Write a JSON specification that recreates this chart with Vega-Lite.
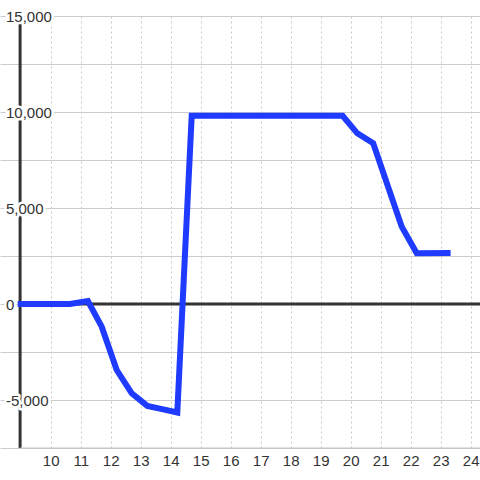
{
  "$schema": "https://vega.github.io/schema/vega-lite/v6.json",
  "width": 480,
  "height": 432,
  "autosize": {"type": "none"},
  "padding": {"top": 16, "left": 0, "right": 0, "bottom": 32},
  "background": "white",
  "config": {
    "view": {"stroke": null},
    "font": "Liberation Sans",
    "axisX": {"grid": true, "gridDash": [2, 3], "gridColor": "#c8c8c8", "domain": false, "ticks": false, "labelFontSize": 15, "labelColor": "#333333", "labelPadding": 5, "labelFont": "Liberation Sans"},
    "axisY": {"grid": true, "gridColor": "#cccccc", "domain": false, "ticks": false, "labels": false}
  },
  "datasets": {
    "series": [
      {"x": 8.9, "y": 0},
      {"x": 10.64, "y": 0},
      {"x": 11.24, "y": 150},
      {"x": 11.7, "y": -1180},
      {"x": 12.2, "y": -3440},
      {"x": 12.7, "y": -4650},
      {"x": 13.22, "y": -5310},
      {"x": 13.75, "y": -5490},
      {"x": 14.22, "y": -5650},
      {"x": 14.7, "y": 9800},
      {"x": 19.73, "y": 9800},
      {"x": 20.22, "y": 8890},
      {"x": 20.75, "y": 8370},
      {"x": 21.7, "y": 4030},
      {"x": 22.2, "y": 2640},
      {"x": 23.33, "y": 2650}
    ],
    "ylabels": [
      {"y": 15000, "label": "15,000"},
      {"y": 10000, "label": "10,000"},
      {"y": 5000, "label": "5,000"},
      {"y": 0, "label": "0"},
      {"y": -5000, "label": "-5,000"}
    ],
    "one": [{}]
  },
  "layer": [
    {
      "data": {"name": "one"},
      "mark": {"type": "rule", "color": "#333333", "strokeWidth": 3},
      "encoding": {
        "x": {"datum": 8.98, "type": "quantitative", "title": null, "scale": {"domain": [8.31, 24.31], "nice": false, "zero": false}, "axis": {"values": [10, 11, 12, 13, 14, 15, 16, 17, 18, 19, 20, 21, 22, 23, 24]}},
        "y": {"datum": -7500, "type": "quantitative", "title": null, "scale": {"domain": [-7500, 15000], "nice": false, "zero": false}, "axis": {"values": [-7500, -5000, -2500, 0, 2500, 5000, 7500, 10000, 12500, 15000]}},
        "y2": {"datum": 14583}
      }
    },
    {
      "data": {"name": "one"},
      "mark": {"type": "rule", "color": "#333333", "strokeWidth": 3},
      "encoding": {
        "x": {"datum": 8.98, "type": "quantitative", "title": null, "scale": {"domain": [8.31, 24.31], "nice": false, "zero": false}, "axis": {"values": [10, 11, 12, 13, 14, 15, 16, 17, 18, 19, 20, 21, 22, 23, 24]}},
        "x2": {"datum": 24.31},
        "y": {"datum": 0, "type": "quantitative", "title": null, "scale": {"domain": [-7500, 15000], "nice": false, "zero": false}, "axis": {"values": [-7500, -5000, -2500, 0, 2500, 5000, 7500, 10000, 12500, 15000]}}
      }
    },
    {
      "data": {"name": "one"},
      "mark": {"type": "rule", "color": "#c4c4c4", "strokeWidth": 1},
      "encoding": {
        "x": {"datum": 8.98, "type": "quantitative", "title": null, "scale": {"domain": [8.31, 24.31], "nice": false, "zero": false}, "axis": {"values": [10, 11, 12, 13, 14, 15, 16, 17, 18, 19, 20, 21, 22, 23, 24]}},
        "x2": {"datum": 24.31},
        "y": {"datum": -7500, "type": "quantitative", "title": null, "scale": {"domain": [-7500, 15000], "nice": false, "zero": false}, "axis": {"values": [-7500, -5000, -2500, 0, 2500, 5000, 7500, 10000, 12500, 15000]}}
      }
    },
    {
      "data": {"name": "ylabels"},
      "mark": {"type": "text", "align": "left", "baseline": "middle", "fontSize": 15, "font": "Liberation Sans", "fill": "white", "stroke": "white", "strokeWidth": 5, "strokeJoin": "round", "dy": 1},
      "encoding": {
        "x": {"datum": 8.51, "type": "quantitative", "title": null, "scale": {"domain": [8.31, 24.31], "nice": false, "zero": false}, "axis": {"values": [10, 11, 12, 13, 14, 15, 16, 17, 18, 19, 20, 21, 22, 23, 24]}},
        "y": {"field": "y", "type": "quantitative", "title": null, "scale": {"domain": [-7500, 15000], "nice": false, "zero": false}, "axis": {"values": [-7500, -5000, -2500, 0, 2500, 5000, 7500, 10000, 12500, 15000]}},
        "text": {"field": "label"}
      }
    },
    {
      "data": {"name": "ylabels"},
      "mark": {"type": "text", "align": "left", "baseline": "middle", "fontSize": 15, "font": "Liberation Sans", "fill": "#333333", "dy": 1},
      "encoding": {
        "x": {"datum": 8.51, "type": "quantitative", "title": null, "scale": {"domain": [8.31, 24.31], "nice": false, "zero": false}, "axis": {"values": [10, 11, 12, 13, 14, 15, 16, 17, 18, 19, 20, 21, 22, 23, 24]}},
        "y": {"field": "y", "type": "quantitative", "title": null, "scale": {"domain": [-7500, 15000], "nice": false, "zero": false}, "axis": {"values": [-7500, -5000, -2500, 0, 2500, 5000, 7500, 10000, 12500, 15000]}},
        "text": {"field": "label"}
      }
    },
    {
      "data": {"name": "series"},
      "mark": {"type": "line", "color": "#1f3bff", "strokeWidth": 6, "strokeCap": "butt", "strokeJoin": "miter"},
      "encoding": {
        "x": {"field": "x", "type": "quantitative", "title": null, "scale": {"domain": [8.31, 24.31], "nice": false, "zero": false}, "axis": {"values": [10, 11, 12, 13, 14, 15, 16, 17, 18, 19, 20, 21, 22, 23, 24]}},
        "y": {"field": "y", "type": "quantitative", "title": null, "scale": {"domain": [-7500, 15000], "nice": false, "zero": false}, "axis": {"values": [-7500, -5000, -2500, 0, 2500, 5000, 7500, 10000, 12500, 15000]}}
      }
    }
  ]
}
